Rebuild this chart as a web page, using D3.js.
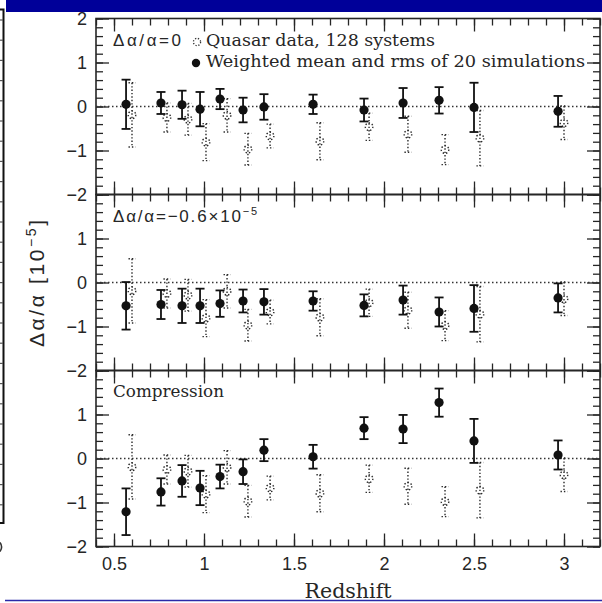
<!DOCTYPE html>
<html>
<head>
<meta charset="utf-8">
<script src="https://cdn.jsdelivr.net/npm/d3@7"></script>
<style>
  body { margin: 0; background: #fff; }
  svg { display: block; }
  .sans { font-family: "Liberation Sans", Arial, sans-serif; }
  .serif { font-family: "DejaVu Serif", "Liberation Serif", serif; }
</style>
</head>
<body>
<svg id="chart" width="602" height="603"></svg>
<script>
// redshift of each bin: simulations (filled) and quasar data (dotted, drawn a bit to the right)
var redshiftSim = [0.567, 0.761, 0.878, 0.978, 1.089, 1.217, 1.333, 1.606, 1.889, 2.106, 2.306, 2.5, 2.967];
var redshiftQso = [0.6, 0.794, 0.911, 1.011, 1.128, 1.244, 1.367, 1.644, 1.917, 2.133, 2.339, 2.533, 3.0];

// quasar data, 128 systems (same in every panel)
var qsoMean = [-0.19, -0.25, -0.29, -0.81, -0.20, -0.97, -0.67, -0.79, -0.46, -0.63, -0.98, -0.72, -0.37];
var qsoErr = [0.73, 0.33, 0.36, 0.42, 0.38, 0.36, 0.27, 0.42, 0.31, 0.41, 0.34, 0.63, 0.38];

// weighted mean and rms of 20 simulations
var simMeanZero = [0.05, 0.08, 0.04, -0.06, 0.17, -0.08, -0.01, 0.05, -0.08, 0.08, 0.14, -0.02, -0.11];
var simErrZero = [0.56, 0.25, 0.32, 0.39, 0.23, 0.28, 0.29, 0.22, 0.26, 0.34, 0.30, 0.56, 0.35];
var simMeanShift = [-0.53, -0.50, -0.53, -0.53, -0.48, -0.42, -0.44, -0.42, -0.52, -0.40, -0.67, -0.59, -0.35];
var simErrShift = [0.54, 0.33, 0.39, 0.39, 0.30, 0.26, 0.29, 0.22, 0.25, 0.33, 0.33, 0.53, 0.33];
var simMeanComp = [-1.21, -0.76, -0.51, -0.67, -0.41, -0.30, 0.19, 0.04, 0.69, 0.67, 1.27, 0.40, 0.08];
var simErrComp = [0.53, 0.31, 0.36, 0.39, 0.27, 0.28, 0.25, 0.27, 0.25, 0.32, 0.32, 0.50, 0.33];

var xMajor = [0.5, 1, 1.5, 2, 2.5, 3];
var xMajorLabels = ['0.5', '1', '1.5', '2', '2.5', '3'];
var yMajorTop = [2, 1, 0, -1, -2];
var yMajor = [1, 0, -1, -2];

var ink = '#262626';
var svg = d3.select('#chart');

// slide decoration round the figure
svg.append('rect').attr('x', 6).attr('y', 0).attr('width', 596).attr('height', 12).attr('fill', '#000099');
svg.append('line').attr('x1', 5).attr('x2', 602).attr('y1', 600.5).attr('y2', 600.5)
    .attr('stroke', '#2a2aa8').attr('stroke-width', 1.6);
svg.append('path').attr('d', 'M0,9.5H3.5V523H0').attr('fill', 'none').attr('stroke', '#111').attr('stroke-width', 2);
d3.range(20, 510, 20.2).forEach(function (yy) {
  svg.append('line').attr('x1', 0).attr('x2', 3).attr('y1', yy).attr('y2', yy)
      .attr('stroke', '#555').attr('stroke-width', 1.2);
});
// edge of a glyph cut off by the slide border
svg.append('path').attr('d', 'M0,542.5Q3.2,547 0,551.5').attr('fill', 'none')
    .attr('stroke', '#333').attr('stroke-width', 1.6);

var x = d3.scaleLinear().domain([0.4, 3.2]).range([96, 600]);
var xMinor = d3.range(0.4, 3.2001, 0.1).map(function (v) { return Math.round(v * 10) / 10; });
var yMinor = d3.range(-2, 2.001, 0.2).map(function (v) { return Math.round(v * 10) / 10; });

var panelTop = 18.5;
var panelH = 176;

var panels = [
  {mean: simMeanZero, err: simErrZero, labels: yMajorTop},
  {mean: simMeanShift, err: simErrShift, labels: yMajor},
  {mean: simMeanComp, err: simErrComp, labels: yMajor}
];

function tidy(g, fontSize) {
  g.select('.domain').remove();
  g.selectAll('line').attr('stroke', ink).attr('stroke-width', 1.3);
  g.selectAll('text').attr('fill', ink).attr('font-size', fontSize)
      .attr('font-family', '"Liberation Sans", Arial, sans-serif');
}

panels.forEach(function (p, i) {
  var top = panelTop + panelH * i;
  var bottom = top + panelH;
  var y = d3.scaleLinear().domain([-2, 2]).range([bottom, top]);
  var g = svg.append('g');

  // inward ticks on all four sides
  [
    [d3.axisBottom(x), 'translate(0,' + bottom + ')', xMinor, xMajor],
    [d3.axisTop(x), 'translate(0,' + top + ')', xMinor, xMajor],
    [d3.axisLeft(y), 'translate(' + x.range()[0] + ',0)', yMinor, [-2, -1, 0, 1, 2]],
    [d3.axisRight(y), 'translate(' + x.range()[1] + ',0)', yMinor, [-2, -1, 0, 1, 2]]
  ].forEach(function (a) {
    var minor = a[0].tickValues(a[2]).tickSizeInner(-7).tickSizeOuter(0).tickFormat('');
    tidy(g.append('g').attr('transform', a[1]).call(minor), 17);
    var major = a[0].tickValues(a[3]).tickSizeInner(-13).tickSizeOuter(0).tickFormat('');
    tidy(g.append('g').attr('transform', a[1]).call(major), 17);
  });

  // y tick labels
  var yl = g.append('g').attr('transform', 'translate(' + x.range()[0] + ',0)')
      .call(d3.axisLeft(y).tickValues(p.labels).tickSize(0).tickPadding(9)
          .tickFormat(function (d) { return d < 0 ? '\u2212' + Math.abs(d) : d; }));
  tidy(yl, 18);

  if (i === panels.length - 1) {
    var xl = g.append('g').attr('transform', 'translate(0,' + bottom + ')')
        .call(d3.axisBottom(x).tickValues(xMajor).tickSize(0).tickPadding(11)
            .tickFormat(function (d, k) { return xMajorLabels[k]; }));
    tidy(xl, 18);
  }

  // frame
  g.append('rect').attr('x', x.range()[0]).attr('y', top)
      .attr('width', x.range()[1] - x.range()[0]).attr('height', panelH)
      .attr('fill', 'none').attr('stroke', ink).attr('stroke-width', 1.6);

  // zero line
  g.append('line').attr('x1', x.range()[0]).attr('x2', x.range()[1])
      .attr('y1', y(0)).attr('y2', y(0))
      .attr('stroke', '#333').attr('stroke-width', 1.3).attr('stroke-dasharray', '1.5,2.5');

  // quasar data: dotted bars and dotted circles
  var q = g.append('g').attr('stroke', '#2a2a2a').attr('stroke-width', 1.4)
      .attr('stroke-dasharray', '1.4,2').attr('fill', 'none');
  redshiftQso.forEach(function (z, k) {
    var cx = x(z);
    var y1 = y(qsoMean[k] + qsoErr[k]);
    var y2 = y(qsoMean[k] - qsoErr[k]);
    q.append('line').attr('x1', cx).attr('x2', cx).attr('y1', y1).attr('y2', y2);
    q.append('line').attr('x1', cx - 3.5).attr('x2', cx + 3.5).attr('y1', y1).attr('y2', y1);
    q.append('line').attr('x1', cx - 3.5).attr('x2', cx + 3.5).attr('y1', y2).attr('y2', y2);
    q.append('circle').attr('cx', cx).attr('cy', y(qsoMean[k])).attr('r', 3.8);
  });

  // simulations: solid bars and filled circles
  var s = g.append('g').attr('stroke', '#111').attr('stroke-width', 1.8);
  redshiftSim.forEach(function (z, k) {
    var cx = x(z);
    var y1 = y(p.mean[k] + p.err[k]);
    var y2 = y(p.mean[k] - p.err[k]);
    s.append('line').attr('x1', cx).attr('x2', cx).attr('y1', y1).attr('y2', y2);
    s.append('line').attr('x1', cx - 4.5).attr('x2', cx + 4.5).attr('y1', y1).attr('y2', y1);
    s.append('line').attr('x1', cx - 4.5).attr('x2', cx + 4.5).attr('y1', y2).attr('y2', y2);
    s.append('circle').attr('cx', cx).attr('cy', y(p.mean[k])).attr('r', 4.6)
        .attr('fill', '#111').attr('stroke', 'none');
  });
});

// panel labels
svg.append('text').attr('class', 'sans').attr('x', 113).attr('y', panelTop + 27.5)
    .attr('font-size', 17).attr('fill', ink)
    .attr('textLength', 68).attr('lengthAdjust', 'spacing').text('\u0394\u03b1/\u03b1=0');

var shiftLabel = svg.append('text').attr('class', 'sans').attr('x', 113).attr('y', panelTop + panelH + 27.5)
    .attr('font-size', 17).attr('fill', ink).attr('textLength', 144).attr('lengthAdjust', 'spacing');
shiftLabel.append('tspan').text('\u0394\u03b1/\u03b1=\u22120.6\u00d710');
shiftLabel.append('tspan').attr('font-size', 11).attr('dy', -7).text('\u22125');

svg.append('text').attr('class', 'serif').attr('x', 113).attr('y', panelTop + 2 * panelH + 26.5)
    .attr('font-size', 17).attr('fill', ink)
    .attr('textLength', 111).attr('lengthAdjust', 'spacingAndGlyphs').text('Compression');

// legend
svg.append('circle').attr('cx', 197).attr('cy', 42).attr('r', 3.6).attr('fill', 'none')
    .attr('stroke', '#333').attr('stroke-width', 1.3).attr('stroke-dasharray', '1.3,1.6');
svg.append('text').attr('class', 'serif').attr('x', 206).attr('y', panelTop + 27.5)
    .attr('font-size', 17).attr('fill', ink)
    .attr('textLength', 229).attr('lengthAdjust', 'spacingAndGlyphs').text('Quasar data, 128 systems');
svg.append('circle').attr('cx', 196).attr('cy', 63).attr('r', 4.2).attr('fill', '#111');
svg.append('text').attr('class', 'serif').attr('x', 206).attr('y', panelTop + 48.5)
    .attr('font-size', 17).attr('fill', ink)
    .attr('textLength', 379).attr('lengthAdjust', 'spacingAndGlyphs').text('Weighted mean and rms of 20 simulations');

// axis titles
svg.append('text').attr('class', 'serif').attr('x', 348).attr('y', 598)
    .attr('text-anchor', 'middle').attr('font-size', 20).attr('fill', ink)
    .attr('textLength', 87).attr('lengthAdjust', 'spacingAndGlyphs').text('Redshift');

var yTitle = svg.append('text').attr('class', 'sans')
    .attr('transform', 'translate(44,347) rotate(-90)')
    .attr('x', 0).attr('y', 0).attr('font-size', 21).attr('fill', ink)
    .attr('textLength', 127).attr('lengthAdjust', 'spacing');
yTitle.append('tspan').text('\u0394\u03b1/\u03b1 [10');
yTitle.append('tspan').attr('font-size', 14).attr('dy', -8).text('\u22125');
yTitle.append('tspan').attr('dy', 8).text(']');
</script>
</body>
</html>
